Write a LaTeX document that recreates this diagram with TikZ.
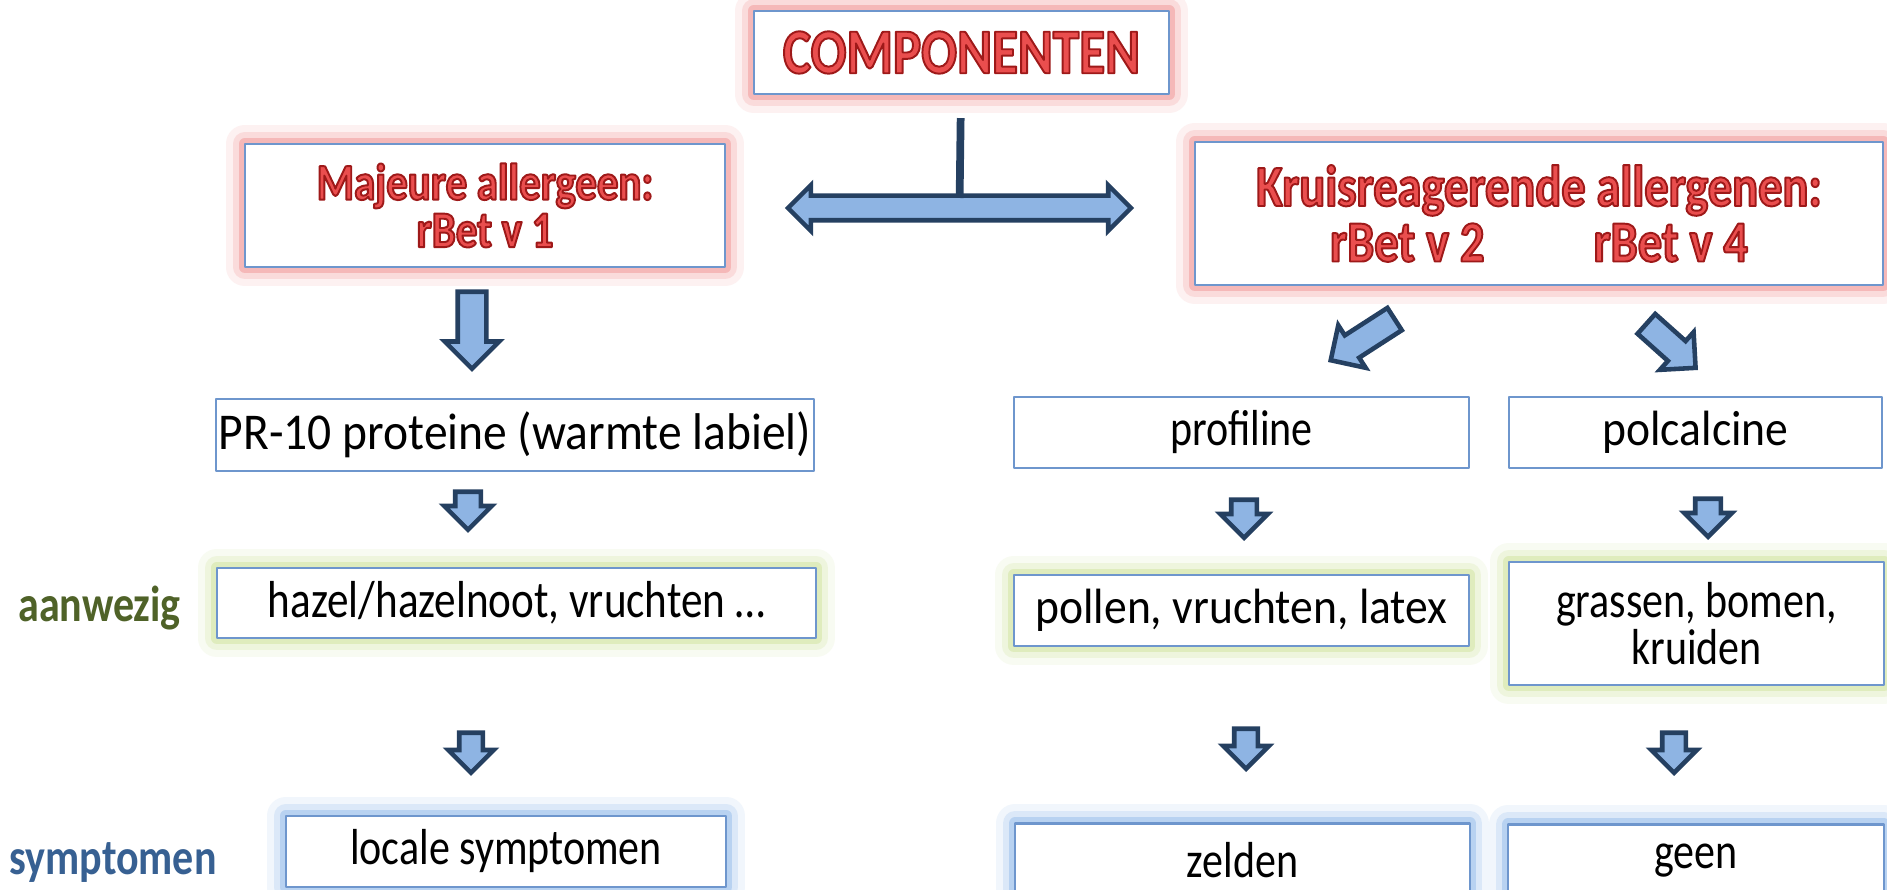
\documentclass[tikz,border=0pt]{standalone}
\usepackage{fontspec}
\setmainfont{Carlito}[FakeStretch=0.83]
\newfontfamily\widefont{Carlito}[FakeStretch=0.92]
\usetikzlibrary{shapes.arrows}

\definecolor{navy}{RGB}{37,64,97}
\definecolor{arrowfill}{RGB}{142,180,227}
\definecolor{boxline}{RGB}{110,150,205}
\definecolor{glowred}{RGB}{238,120,120}
\definecolor{glowgreen}{RGB}{196,220,130}
\definecolor{glowblue}{RGB}{120,170,230}
\definecolor{titlered}{RGB}{234,78,78}
\definecolor{olivegreen}{RGB}{79,98,40}
\definecolor{symblue}{RGB}{55,96,146}

% red text with a darker edge
\newcommand\redtext[1]{\special{pdf:literal direct 2 Tr 0.55 w 0.62 0.1 0.1 RG}#1\special{pdf:literal direct 0 Tr}}

\begin{document}
\begin{tikzpicture}

\tikzset{box/.style = {draw=boxline, line width=0.6pt, fill=white, inner sep=0pt, align=center, line join=round, font=\fontsize{14.4}{13.5}\selectfont}}
\tikzset{glow/.style = {preaction={draw=#1, line width=11pt, opacity=0.10}, preaction={draw=#1, line width=7pt, opacity=0.18}, preaction={draw=#1, line width=3.5pt, opacity=0.35}}}
\tikzset{redbox/.style = {box, glow=glowred, text=titlered}}
\tikzset{greenbox/.style = {box, glow=glowgreen}}
\tikzset{bluebox/.style = {box, glow=glowblue}}
\tikzset{blockarrow/.style = {draw=navy, fill=arrowfill, line width=1.3pt, line join=miter, inner xsep=0pt}}
\tikzset{downarrow/.style = {blockarrow, single arrow, anchor=tip, minimum height=#1, inner ysep=0.12cm, single arrow head extend=0.13cm}}
\tikzset{smallarrow/.style = {downarrow=#1, rotate=-90, inner ysep=0.095cm, single arrow head extend=0.11cm}}
\tikzset{sidelabel/.style = {font=\fontsize{14.4}{16}\selectfont\bfseries}}

\useasboundingbox[fill=white] (0,0) rectangle (18.87,-8.90);

% boxes
\node[redbox, minimum width=4.15cm, minimum height=0.83cm, font=\fontsize{18.2}{20}\selectfont\bfseries] (comp) at (9.615,-0.525) {\redtext{COMPONENTEN}};
\node[redbox, minimum width=4.80cm, minimum height=1.23cm, font=\fontsize{14.7}{13.5}\selectfont\bfseries] (maj) at (4.85,-2.055) {\redtext{Majeure allergeen:}\\\redtext{rBet v 1}};
\node[redbox, minimum width=6.88cm, minimum height=1.43cm, font=\fontsize{16.6}{15.8}\selectfont\bfseries] (kruis) at (15.39,-2.135) {\redtext{Kruisreagerende allergenen:}\\\redtext{rBet v 2\hspace{31pt}rBet v 4}};

\node[box, minimum width=5.98cm, minimum height=0.72cm, font=\fontsize{14.7}{16}\widefont] (pr10) at (5.15,-4.35) {PR-10 proteine (warmte labiel)};
\node[box, minimum width=4.55cm, minimum height=0.71cm] (prof) at (12.415,-4.325) {profiline};
\node[box, minimum width=3.73cm, minimum height=0.71cm, font=\fontsize{14.1}{16}\widefont] (polc) at (16.955,-4.325) {polcalcine};

\node[greenbox, minimum width=5.99cm, minimum height=0.70cm, font=\fontsize{14.8}{16}\selectfont] (hazel) at (5.165,-6.03) {hazel/hazelnoot, vruchten …};
\node[greenbox, minimum width=4.55cm, minimum height=0.71cm, font=\fontsize{14.1}{16}\widefont] (pollen) at (12.415,-6.105) {pollen, vruchten, latex};
\node[greenbox, minimum width=3.75cm, minimum height=1.23cm] (gras) at (16.965,-6.235) {grassen, bomen,\\kruiden};

\node[bluebox, minimum width=4.40cm, minimum height=0.71cm] (locale) at (5.06,-8.515) {locale symptomen};
\node[bluebox, minimum width=4.55cm, minimum height=0.73cm] (zelden) at (12.425,-8.60) {zelden};
\node[bluebox, minimum width=3.76cm, minimum height=0.73cm] (geen) at (16.96,-8.61) {geen};

% row labels
\node[sidelabel, text=olivegreen] (aanw) at (0.995,-6.08) {aanwezig};
\node[sidelabel, text=symblue] (sympt) at (1.13,-8.63) {symptomen};

% arrows
\node[blockarrow, double arrow, minimum height=3.43cm, inner ysep=0.10cm, double arrow head extend=0.105cm] (split) at (9.595,-2.08) {};
\draw[navy, line width=2.2pt, shorten <=0.23cm, shorten >=0.10cm] (comp) -- (split.center);

\node[downarrow=0.77cm, rotate=-90] (a1) at (4.72,-3.72) {};
\node[downarrow=0.76cm, rotate=212.8, inner ysep=0.11cm, single arrow head extend=0.12cm] (a2) at (13.28,-3.62) {};
\node[downarrow=0.66cm, rotate=-41.8, inner ysep=0.11cm, single arrow head extend=0.12cm] (a3) at (16.98,-3.70) {};

\node[smallarrow=0.38cm, inner ysep=0.105cm, single arrow head extend=0.11cm] (b1) at (4.68,-5.33) {};
\node[smallarrow=0.38cm, inner ysep=0.105cm, single arrow head extend=0.11cm] (b2) at (12.44,-5.41) {};
\node[smallarrow=0.38cm, inner ysep=0.105cm, single arrow head extend=0.11cm] (b3) at (17.08,-5.40) {};

\node[smallarrow=0.40cm] (c1) at (4.71,-7.76) {};
\node[smallarrow=0.40cm] (c2) at (12.46,-7.72) {};
\node[smallarrow=0.40cm] (c3) at (16.74,-7.76) {};

\end{tikzpicture}
\end{document}
